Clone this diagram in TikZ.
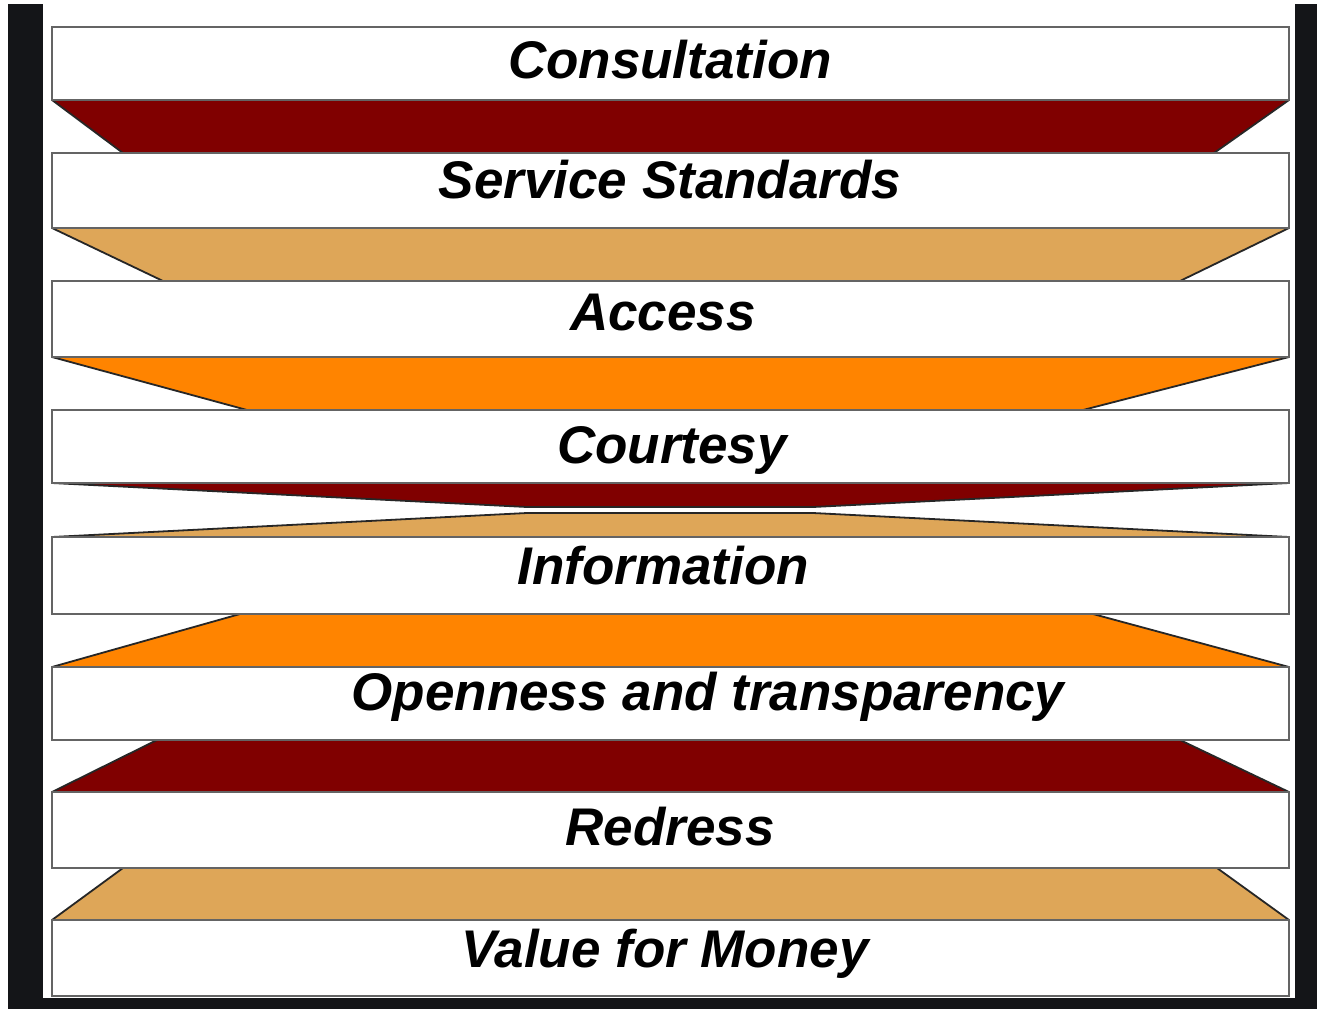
\documentclass[tikz,border=0pt]{standalone}
\usepackage{fontspec}
\setmainfont{Liberation Sans}
\definecolor{maroonband}{RGB}{128,0,0}
\definecolor{tanband}{RGB}{222,166,88}
\definecolor{orangeband}{RGB}{255,132,0}
\definecolor{framedark}{RGB}{20,21,24}
\definecolor{boxline}{RGB}{100,100,100}
\tikzset{
  box/.style={draw=boxline, line width=2.2pt, fill=white, rectangle, inner sep=0pt, outer sep=0pt,
              minimum width=1237pt},
  lbl/.style={anchor=base, inner sep=0pt, font=\fontsize{53}{60}\selectfont\bfseries\itshape},
  band/.style={draw=black!85, line width=1.8pt, line join=round}
}
\begin{document}
\begin{tikzpicture}[x=1pt,y=-1pt]
\useasboundingbox (0,0) rectangle (1317,1009);
\fill[white] (0,0) rectangle (1317,1009);
% dark frame
\fill[framedark] (8,4) rectangle (43,1009);
\fill[framedark] (1295,4) rectangle (1317,1009);
\fill[framedark] (8,998) rectangle (1317,1009);
% bands
\draw[band, fill=maroonband] (52,100) -- (1289,100) -- (1214,153) -- (123,153) -- cycle;
\draw[band, fill=tanband] (52,228) -- (1289,228) -- (1180,281) -- (163,281) -- cycle;
\draw[band, fill=orangeband] (52,357) -- (1289,357) -- (1083,410) -- (247,410) -- cycle;
\draw[band, fill=maroonband] (52,483) -- (1289,483) -- (813,507) -- (527,507) -- cycle;
\draw[band, fill=tanband] (527,513) -- (813,513) -- (1289,537) -- (52,537) -- cycle;
\draw[band, fill=orangeband] (240,614) -- (1093,614) -- (1289,667) -- (52,667) -- cycle;
\draw[band, fill=maroonband] (157,740) -- (1180,740) -- (1289,792) -- (52,792) -- cycle;
\draw[band, fill=tanband] (123,868) -- (1217,868) -- (1289,920) -- (52,920) -- cycle;
% boxes
\node[box, minimum height=73pt] (b1) at (670.5,63.5) {};
\node[box, minimum height=75pt] (b2) at (670.5,190.5) {};
\node[box, minimum height=76pt] (b3) at (670.5,319) {};
\node[box, minimum height=73pt] (b4) at (670.5,446.5) {};
\node[box, minimum height=77pt] (b5) at (670.5,575.5) {};
\node[box, minimum height=73pt] (b6) at (670.5,703.5) {};
\node[box, minimum height=76pt] (b7) at (670.5,830) {};
\node[box, minimum height=76pt] (b8) at (670.5,958) {};
% labels
\node[lbl] (t1) at (670,78) {Consultation};
\node[lbl] (t2) at (670,198) {Service Standards};
\node[lbl] (t3) at (663,330) {Access};
\node[lbl] (t4) at (672,463) {Courtesy};
\node[lbl] (t5) at (663,584) {Information};
\node[lbl] (t6) at (708,710) {Openness and transparency};
\node[lbl] (t7) at (670,845) {Redress};
\node[lbl] (t8) at (665,967) {Value for Money};
\end{tikzpicture}
\end{document}
